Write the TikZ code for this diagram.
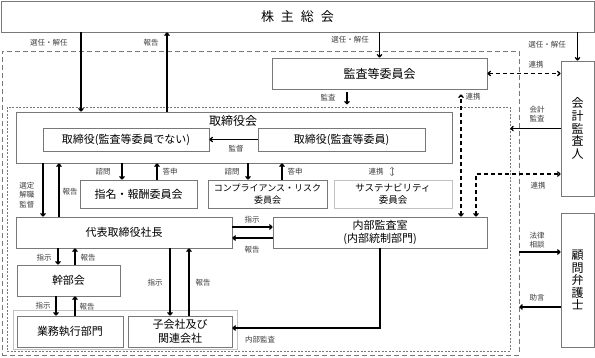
\documentclass[tikz,border=0pt]{standalone}
\usepackage{fontspec}
\setmainfont{Noto Sans CJK JP}
\usetikzlibrary{arrows.meta, calc}
\definecolor{frame}{RGB}{120,120,120}
\definecolor{faint}{RGB}{195,195,195}
\definecolor{note}{RGB}{60,60,60}

\tikzset{
  box/.style={draw=frame, line width=0.9pt, fill=white, align=center, inner sep=0pt,
    font=\fontsize{11}{13.5}\selectfont},
  lbl/.style={text=note, inner sep=0pt, align=center, font=\fontsize{7.5}{9.5}\selectfont},
  arr/.style={-{To[length=3.5pt,width=5.5pt]}, line width=1.3pt},
  linkarr/.style={{To[length=3.5pt,width=5.5pt]}-{To[length=3.5pt,width=5.5pt]},
    line width=1.3pt, dash pattern=on 4pt off 3pt},
}

\begin{document}
\begin{tikzpicture}[x=1pt, y=-1pt]
    \useasboundingbox (0,0) rectangle (595,357);
    % zones
    \node[draw=frame, line width=0.8pt, dash pattern=on 5pt off 3pt, minimum width=517, minimum height=304] (company) at (260.5,203) {};
    \node[draw=frame, line width=0.7pt, dash pattern=on 2pt off 1.5pt, minimum width=503, minimum height=244] (boardzone) at (258.5,229) {};
    \node[draw=faint, line width=0.8pt, minimum width=224, minimum height=39] (group) at (125,329.5) {};

    % boxes
    \node[box, minimum width=593, minimum height=31, font=\fontsize{13}{15}\selectfont] (meeting) at (297.5,16.5) {株\hspace{7pt}主\hspace{7pt}総\hspace{7pt}会};
    \node[box, minimum width=215, minimum height=31, font=\fontsize{12}{14}\selectfont] (committee) at (379.5,73.5) {監査等委員会};
    \node[box, minimum width=436, minimum height=51] (board) at (234,137.5) {};
    \node[inner sep=0pt, font=\fontsize{12}{14}\selectfont] (boardtitle) at (233,121) {取締役会};
    \node[box, minimum width=166, minimum height=23] (dirnon) at (126,139.5) {取締役(監査等委員でない)};
    \node[box, minimum width=167, minimum height=23] (diraudit) at (341.5,139.5) {取締役(監査等委員)};
    \node[box, minimum width=117, minimum height=28] (nomination) at (138.5,194) {指名・報酬委員会};
    \node[box, minimum width=119, minimum height=28, font=\fontsize{9}{12}\selectfont] (compliance) at (267.5,194) {コンプライアンス・リスク\\委員会};
    \node[box, draw=faint, minimum width=118, minimum height=28, font=\fontsize{9.5}{12}\selectfont] (sustain) at (393,194) {サステナビリティ\\委員会};
    \node[box, minimum width=216, minimum height=31] (ceo) at (124,232.5) {代表取締役社長};
    \node[box, minimum width=214, minimum height=31] (internal) at (380,232.5) {内部監査室\\(内部統制部門)};
    \node[box, minimum width=103, minimum height=31] (exec) at (68.5,280.5) {幹部会};
    \node[box, minimum width=106, minimum height=31] (business) at (70,331.5) {業務執行部門};
    \node[box, minimum width=104, minimum height=31] (subsid) at (180,331.5) {子会社及び\\関連会社};
    \node[box, minimum width=33, minimum height=135, font=\fontsize{12}{12.8}\selectfont] (auditor) at (577.5,128.5) {会\\計\\監\\査\\人};
    \node[box, minimum width=33, minimum height=134, font=\fontsize{12}{12.5}\selectfont] (lawyer) at (577.5,280) {顧\\問\\弁\\護\\士};

    % shareholders
    \draw[arr] ([xshift=-153]board.north |- meeting.south) -- ([xshift=-153]board.north);
    \draw[arr] ([xshift=-67]board.north) -- ([xshift=-67]board.north |- meeting.south);
    \draw[arr] (committee.north |- meeting.south) -- (committee.north);
    \draw[arr] (auditor.north |- meeting.south) -- (auditor.north);
    \node[lbl] at (49,43) {選任・解任};
    \node[lbl] at (151,43) {報告};
    \node[lbl] at (350,40) {選任・解任};
    \node[lbl] at (547,45) {選任・解任};

    % audit committee
    \draw[linkarr] (committee.east) -- (committee.east -| auditor.west);
    \node[lbl] at (536,65) {連携};
    \draw[arr, shorten <=3pt] ([xshift=-32.5]committee.south) -- ++(0,15);
    \node[lbl] at (328,98) {監査};
    \draw[linkarr, shorten >=5pt] ([xshift=81]internal.north) -- ([xshift=81]internal.north |- committee.south);
    \node[lbl] at (473,97) {連携};

    % accounting auditor
    \draw[arr] (auditor.west) -- (auditor.west -| boardzone.east);
    \node[lbl] at (537,114) {会計\\監査};
    \coordinate (auditlink) at ($(auditor.west)+(0,45.5)$);
    \draw[linkarr] ([xshift=96]internal.north) |- (auditlink);
    \node[lbl] at (538,186) {連携};

    % legal advisor
    \coordinate (lawin) at ($(lawyer.west)+(0,-28)$);
    \coordinate (lawout) at ($(lawyer.west)+(0,27)$);
    \draw[arr] (lawin -| company.east) -- (lawin);
    \draw[arr] (lawout) -- (lawout -| company.east);
    \node[lbl] at (537,240) {法律\\相談};
    \node[lbl] at (537,298) {助言};

    % board of directors
    \draw[arr] (diraudit.west) -- (dirnon.east);
    \node[lbl] at (236,149) {監督};
    \draw[arr] ([xshift=-16.5]nomination.north |- board.south) -- ([xshift=-16.5]nomination.north);
    \draw[arr] ([xshift=18.5]nomination.north) -- ([xshift=18.5]nomination.north |- board.south);
    \node[lbl] at (103,172) {諮問};
    \node[lbl] at (170,172) {答申};
    \draw[arr] ([xshift=-19.5]compliance.north |- board.south) -- ([xshift=-19.5]compliance.north);
    \draw[arr] ([xshift=14.5]compliance.north) -- ([xshift=14.5]compliance.north |- board.south);
    \node[lbl] at (232,172) {諮問};
    \node[lbl] at (295,172) {答申};
    \draw[{Straight Barb[length=2pt]}-{Straight Barb[length=2pt]}, draw=frame, line width=0.5pt, shorten <=3.5pt, shorten >=3.5pt]
        ([xshift=-1]sustain.north) -- ([xshift=-1]sustain.north |- board.south);
    \node[lbl] at (376,172) {連携};

    % president
    \draw[arr] ([xshift=-81]ceo.north |- board.south) -- ([xshift=-81]ceo.north);
    \draw[arr] ([xshift=-65]ceo.north) -- ([xshift=-65]ceo.north |- board.south);
    \node[lbl] at (27,195) {選定\\解職\\監督};
    \node[lbl] at (70,192) {報告};
    \draw[arr] ([yshift=5.5]ceo.east) -- ([yshift=5.5]internal.west);
    \draw[arr] ([yshift=-5.5]internal.west) -- ([yshift=-5.5]ceo.east);
    \node[lbl] at (252,220) {指示};
    \node[lbl] at (252,250) {報告};
    \draw[arr] ([xshift=-10.5]exec.north |- ceo.south) -- ([xshift=-10.5]exec.north);
    \draw[arr] ([xshift=6.5]exec.north) -- ([xshift=6.5]exec.north |- ceo.south);
    \node[lbl] at (44,258) {指示};
    \node[lbl] at (88,258) {報告};
    \draw[arr] ([xshift=-12.5]exec.south) -- ([xshift=-12.5]exec.south |- business.north);
    \draw[arr] ([xshift=6.5]exec.south |- business.north) -- ([xshift=6.5]exec.south);
    \node[lbl] at (43,306) {指示};
    \node[lbl] at (87,307) {報告};
    \draw[arr] ([xshift=-10]subsid.north |- ceo.south) -- ([xshift=-10]subsid.north);
    \draw[arr] ([xshift=9]subsid.north) -- ([xshift=9]subsid.north |- ceo.south);
    \node[lbl] at (155,283) {指示};
    \node[lbl] at (203,283) {報告};

    % internal audit
    \draw[arr] (internal.south) |- ([yshift=3.5]subsid.east);
    \node[lbl] at (260,340) {内部監査};
\end{tikzpicture}
\end{document}
